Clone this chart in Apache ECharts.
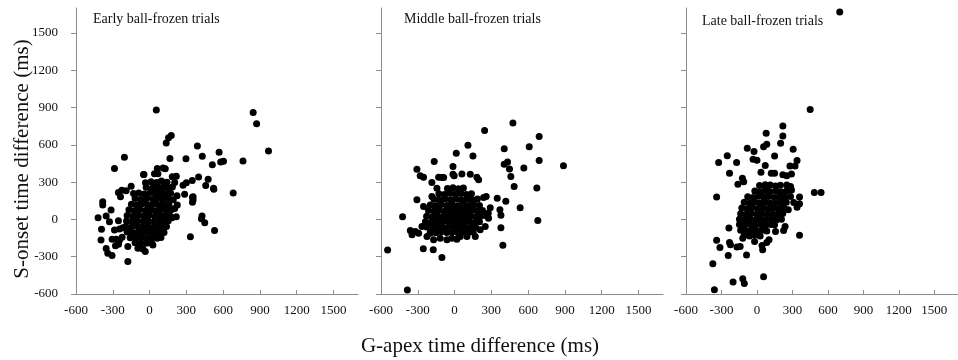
<!DOCTYPE html>
<html>
<head>
<meta charset="utf-8">
<script src="https://cdn.jsdelivr.net/npm/echarts@6/dist/echarts.min.js"></script>
<style>
  html, body { margin: 0; padding: 0; background: #fff; }
  #chart { width: 958px; height: 360px; }
</style>
</head>
<body>
<div id="chart"></div>
<script>
// Tick values shared by both axes of every panel (ms)
const tickValues = [-600, -300, 0, 300, 600, 900, 1200, 1500];

const panelTitles = ['Early ball-frozen trials', 'Middle ball-frozen trials', 'Late ball-frozen trials'];

// [G-apex time difference, S-onset time difference] in ms
const earlyTrials = [
  [55,880],[845,860],[873,770],[970,550],[682,212],[762,470],[567,540],[580,462],[603,468],[512,440],
  [522,250],[530,-90],[430,508],[390,590],[297,488],[400,340],[478,322],[458,272],[348,312],[350,178],
  [350,138],[428,28],[423,5],[450,-28],[333,-140],[136,614],[155,657],[177,675],[166,490],[63,410],
  [110,414],[128,408],[40,368],[68,368],[-46,362],[185,342],[218,346],[300,294],[273,275],[205,296],
  [-33,294],[-150,267],[-226,235],[-254,216],[-237,182],[-191,230],[-131,208],[117,283],[524,243],[355,155],
  [355,182],[286,203],[224,190],[226,115],[205,88],[183,13],[218,21],[-382,142],[-382,115],[-314,75],
  [-420,13],[-354,27],[-392,-80],[-327,-19],[-254,-11],[-396,-166],[-354,-235],[-341,-272],[-306,-291],[-177,-339],
  [-95,-232],[-55,-238],[-35,-259],[-27,-192],[27,-206],[-177,-219],[-286,-85],[-245,-77],[-218,-67],[-305,-160],
  [-273,-160],[-245,-166],[-278,-211],[-253,-200],[-224,-144],[-286,409],[-205,500],[-49,361],
  [12,302],[58,296],[97,308],[142,298],[35,280],[120,276],
  [-28,258],[22,250],[63,262],[108,254],[152,248],[186,260],[84,236],[40,228],
  [-88,212],[-42,205],[7,216],[47,208],[92,214],[128,203],[172,210],[-20,188],[110,186],
  [-118,168],[-72,160],[-23,170],[27,162],[66,172],[104,160],[152,166],[193,158],[48,140],[-45,142],
  [-148,122],[-103,116],[-58,126],[-13,118],[32,124],[77,114],[113,126],[158,118],[135,95],[10,98],
  [-168,78],[-123,70],[-78,80],[-33,72],[12,78],[52,70],[97,80],[138,72],[176,78],[-100,52],[72,50],
  [-183,32],[-138,26],[-93,34],[-48,28],[-3,36],[42,26],[87,32],[123,28],[163,34],[-25,8],[100,6],
  [-188,-12],[-143,-18],[-98,-10],[-53,-16],[-8,-12],[37,-20],[82,-12],[118,-16],[153,-10],[-120,-38],[58,-40],
  [-193,-58],[-148,-64],[-103,-56],[-58,-62],[-13,-58],[32,-64],[72,-56],[108,-62],[138,-58],[-35,-84],[90,-82],
  [-183,-102],[-138,-108],[-93,-100],[-48,-106],[-3,-102],[42,-108],[78,-100],[118,-106],[-115,-128],[20,-130],
  [-158,-148],[-113,-152],[-68,-146],[-23,-152],[22,-148],[62,-152],[93,-146],
  [-118,-188],[-73,-192],[-28,-186],[17,-192]
];

const middleTrials = [
  [-546,-247],[-385,-567],[-424,22],[-103,-306],[-255,-236],[-174,-244],[-307,157],[-253,104],[-307,403],[-280,350],
  [-253,339],[-166,465],[-185,296],[-144,251],[-130,339],[-103,336],[-89,336],[-13,425],[14,532],[109,596],
  [150,510],[245,714],[476,776],[690,666],[609,585],[405,569],[405,444],[432,462],[448,406],[459,345],
  [486,264],[565,414],[690,473],[888,431],[671,253],[679,-9],[535,93],[418,146],[348,171],[370,77],
  [378,34],[378,-68],[394,-207],[291,93],[275,50],[258,29],[237,176],[258,184],[196,318],[182,339],
  [128,363],[60,366],[-13,363],[-3,350],[-49,243],[-185,184],[-361,-89],[-347,-124],[-320,-97],[-293,-111],
  [-266,-57],[-225,-137],[-198,-111],[-171,-164],[-117,-151],[-62,-164],[-22,-151],[19,-159],[46,-137],[101,-137],
  [169,-137],[209,-84],[250,-57],[277,10],
  [-58,248],[-13,254],[32,246],[72,252],
  [-128,206],[-83,200],[-38,210],[7,202],[52,208],[97,200],[138,206],
  [-168,162],[-123,156],[-78,166],[-33,158],[12,164],[57,156],[102,162],[143,158],[186,164],
  [-198,116],[-153,110],[-108,120],[-63,112],[-18,118],[27,110],[72,120],[117,112],[158,118],[203,112],
  [-213,72],[-168,66],[-123,74],[-78,68],[-33,76],[12,66],[57,72],[102,66],[147,74],[188,68],[228,72],
  [-228,26],[-183,20],[-138,28],[-93,22],[-48,30],[-3,20],[42,26],[87,22],[132,28],[173,22],[213,26],
  [-238,-18],[-193,-24],[-148,-16],[-103,-22],[-58,-14],[-13,-24],[32,-18],[77,-22],[122,-16],[163,-24],[203,-18],
  [-228,-62],[-183,-68],[-138,-60],[-93,-66],[-48,-58],[-3,-68],[42,-62],[87,-66],[128,-60],[172,-66],
  [-198,-104],[-153,-108],[-108,-100],[-63,-106],[-18,-102],[27,-108],[72,-100],[113,-106],[152,-102],
  [-80,44],[-20,50],[40,48],[95,44],[-50,92],[10,94],[70,90],[-110,0],[-40,-2],[20,4],[80,0],[140,-40],[-150,-40],[-10,-40],[50,-84]
];

const lateTrials = [
  [700,1668],[450,883],[-360,-566],[-373,-357],[-341,181],[-324,457],[-251,511],[-232,371],[-172,457],[-82,572],
  [-25,545],[-33,484],[0,476],[70,433],[56,585],[83,604],[78,693],[149,510],[219,751],[219,671],
  [200,612],[306,564],[339,473],[322,430],[279,430],[292,366],[219,358],[252,350],[121,371],[149,371],
  [70,278],[83,259],[34,379],[-123,331],[-112,302],[-161,283],[485,216],[542,216],[360,181],[360,125],
  [339,98],[311,136],[284,184],[292,237],[284,264],[252,277],[219,168],[360,-127],[265,77],[238,-57],
  [225,-89],[149,-44],[157,-97],[102,-164],[83,-186],[56,-461],[43,-210],[48,-244],[-20,-178],[-88,-287],
  [-202,-504],[-120,-477],[-107,-515],[-237,-70],[-232,-186],[-224,-204],[-169,-223],[-142,-218],[-243,-290],[-313,-226],
  [-341,-167],[-120,-151],[-66,-97],
  [22,272],[67,266],[112,276],[157,268],[198,274],
  [-18,228],[27,220],[72,230],[113,222],[162,228],[203,220],[247,226],
  [-78,182],[-33,176],[12,186],[57,178],[98,184],[147,176],[188,182],[237,178],
  [-108,138],[-63,130],[-18,140],[27,132],[72,138],[113,130],[162,136],[203,130],[248,138],
  [-128,92],[-83,86],[-38,96],[7,88],[52,94],[93,86],[142,92],[183,86],[228,94],
  [-138,46],[-93,40],[-48,50],[-3,42],[42,48],[83,40],[132,46],[173,40],[218,48],
  [-148,2],[-103,-4],[-58,6],[-13,-2],[32,4],[73,-4],[122,2],[163,-4],[207,2],
  [-148,-42],[-103,-48],[-58,-40],[-13,-48],[32,-42],[73,-48],[118,-42],
  [-138,-88],[-93,-94],[-48,-86],[-3,-94],[42,-88],[83,-94],
  [-108,-128],[-63,-134],[-18,-126],[27,-134]
];

const panelData = [earlyTrials, middleTrials, lateTrials];

const FONT = "'Liberation Serif', 'Times New Roman', serif";
const AXIS_COLOR = '#8c8c8c';
const panelLeft = [76, 381, 686];
const titleLeft = [93, 404, 702];
const titleTop = [12, 12, 14];

const chart = echarts.init(document.getElementById('chart'), null, { renderer: 'canvas' });

const grids = panelLeft.map(l => ({ left: l, top: 8, width: 282, height: 286 }));

const plainNumber = v => String(v);

const xAxes = panelLeft.map((_, i) => ({
  type: 'value', gridIndex: i, min: -600, max: 1700,
  axisLine: { show: true, onZero: false, lineStyle: { color: AXIS_COLOR, width: 1 } },
  axisTick: { show: true, inside: true, length: 4, customValues: tickValues, lineStyle: { color: AXIS_COLOR } },
  axisLabel: { customValues: tickValues, formatter: plainNumber, margin: 10, color: '#111', fontSize: 13, fontFamily: FONT },
  splitLine: { show: false }
}));

const yAxes = panelLeft.map((_, i) => ({
  type: 'value', gridIndex: i, min: -600, max: 1700,
  axisLine: { show: true, onZero: false, lineStyle: { color: AXIS_COLOR, width: 1 } },
  axisTick: { show: true, inside: false, length: 5, customValues: tickValues, lineStyle: { color: AXIS_COLOR } },
  axisLabel: { show: i === 0, customValues: tickValues, formatter: plainNumber, margin: 18, color: '#111', fontSize: 13, fontFamily: FONT },
  splitLine: { show: false }
}));

const series = panelData.map((d, i) => ({
  type: 'scatter', xAxisIndex: i, yAxisIndex: i, data: d,
  symbol: 'circle', symbolSize: 7,
  itemStyle: { color: '#000', opacity: 1 },
  silent: true
}));

chart.setOption({
  animation: false,
  backgroundColor: '#fff',
  title: panelTitles.map((t, i) => ({
    text: t, left: titleLeft[i], top: titleTop[i], padding: 0,
    textStyle: { fontSize: 14, fontWeight: 'normal', fontFamily: FONT, color: '#111' }
  })),
  grid: grids,
  xAxis: xAxes,
  yAxis: yAxes,
  series: series,
  graphic: [
    {
      type: 'text', x: 22, y: 159, rotation: Math.PI / 2,
      style: { text: 'S-onset time difference (ms)', fontSize: 21, fontFamily: FONT, fill: '#111',
               align: 'center', verticalAlign: 'middle' }
    },
    {
      type: 'text', x: 480, y: 346,
      style: { text: 'G-apex time difference (ms)', fontSize: 21, fontFamily: FONT, fill: '#111',
               align: 'center', verticalAlign: 'middle' }
    }
  ]
});
</script>
</body>
</html>
